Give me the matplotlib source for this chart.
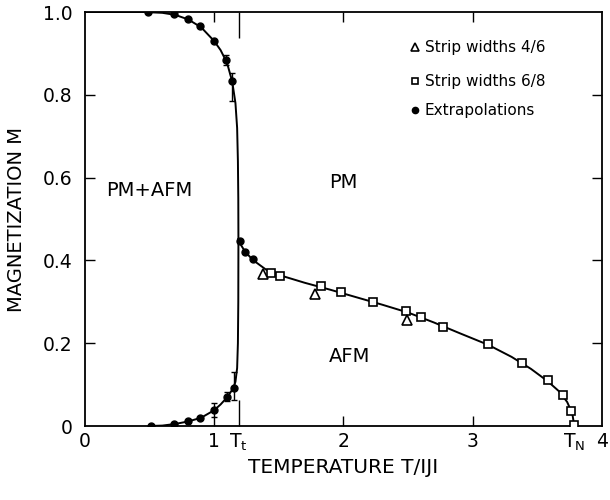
import matplotlib
matplotlib.use("Agg")
import matplotlib.pyplot as plt
import numpy as np

# ---- data ----
# Strip widths 4/6 (open triangles)
tri_x = [1.38, 1.78, 2.49]
tri_y = [0.367, 0.320, 0.256]
# Strip widths 6/8 (open squares)
sq_x = [1.44, 1.51, 1.83, 1.98, 2.23, 2.48, 2.60, 2.77, 3.12, 3.38, 3.58, 3.70, 3.76, 3.78]
sq_y = [0.369, 0.362, 0.337, 0.323, 0.299, 0.277, 0.263, 0.240, 0.199, 0.153, 0.110, 0.075, 0.036, 0.002]
# Extrapolations (filled circles), upper branch / lower branch / right branch
ext_up_x = [0.49, 0.69, 0.80, 0.89, 1.00, 1.09, 1.135]
ext_up_y = [1.000, 0.995, 0.983, 0.966, 0.930, 0.884, 0.833]
ext_up_err_lo = [0, 0, 0, 0, 0, 0.012, 0.047]
ext_up_err_hi = [0, 0, 0, 0, 0, 0.012, 0.020]
ext_lo_x = [0.51, 0.69, 0.80, 0.89, 1.00, 1.10, 1.15]
ext_lo_y = [0.000, 0.005, 0.012, 0.020, 0.039, 0.070, 0.092]
ext_lo_err_lo = [0, 0, 0, 0, 0.017, 0.010, 0.030]
ext_lo_err_hi = [0, 0, 0, 0, 0.017, 0.012, 0.038]
ext_r_x = [1.20, 1.24, 1.30]
ext_r_y = [0.447, 0.420, 0.403]

# smooth guide curves
left_curve_x = [0.0, 0.45, 0.6, 0.7, 0.8, 0.9, 1.0, 1.05, 1.1, 1.14, 1.165, 1.178, 1.184, 1.187,
                1.188, 1.187, 1.184, 1.178, 1.165, 1.15, 1.1, 1.05, 1.0, 0.9, 0.8, 0.7, 0.6, 0.5]
left_curve_y = [1.0, 1.0, 0.998, 0.993, 0.982, 0.963, 0.930, 0.908, 0.877, 0.832, 0.78, 0.72, 0.64, 0.55,
                0.45, 0.30, 0.20, 0.14, 0.107, 0.092, 0.069, 0.052, 0.038, 0.020, 0.011, 0.005, 0.001, 0.0]
right_curve_x = [1.188, 1.21, 1.24, 1.30, 1.40, 1.51, 1.70, 1.90, 2.10, 2.30, 2.50, 2.70, 2.90, 3.12,
                 3.30, 3.45, 3.58, 3.67, 3.73, 3.77, 3.785]
right_curve_y = [0.452, 0.436, 0.421, 0.401, 0.378, 0.364, 0.346, 0.329, 0.311, 0.293, 0.274, 0.250, 0.224,
                 0.196, 0.167, 0.138, 0.108, 0.083, 0.058, 0.030, 0.0]

x_ticks = [0, 1, 1.19, 2, 3, 3.78, 4]
x_ticklabels = ["0", "1", r"T$_{\rm t}$", "2", "3", r"T$_{\rm N}$", "4"]
y_ticks = [0, 0.2, 0.4, 0.6, 0.8, 1.0]
y_ticklabels = ["0", "0.2", "0.4", "0.6", "0.8", "1.0"]

# ---- figure ----
plt.rcParams['font.family'] = ['DejaVu Sans']
fig = plt.figure(figsize=(6.1, 5.0), dpi=100)
ax = fig.add_axes([0.139, 0.148, 0.848, 0.828])

lw = 1.4
ax.plot(left_curve_x, left_curve_y, color='black', lw=lw, zorder=2)
ax.plot(right_curve_x, right_curve_y, color='black', lw=lw, zorder=2)

ax.errorbar(ext_up_x, ext_up_y, yerr=[ext_up_err_lo, ext_up_err_hi], fmt='o', color='black',
            ms=5, capsize=2.5, elinewidth=1, zorder=3)
ax.errorbar(ext_lo_x, ext_lo_y, yerr=[ext_lo_err_lo, ext_lo_err_hi], fmt='o', color='black',
            ms=5, capsize=2.5, elinewidth=1, zorder=3)
ax.plot(ext_r_x, ext_r_y, 'o', color='black', ms=5, zorder=3)
ax.plot(sq_x, sq_y, 's', mfc='white', mec='black', mew=1.2, ms=5.5, zorder=4)
ax.plot(tri_x, tri_y, '^', mfc='white', mec='black', mew=1.2, ms=6.5, zorder=4)

ax.set_xlim(0, 4.0)
ax.set_ylim(0, 1.0)

# ticks: inward, on all sides
ax.set_xticks(x_ticks)
ax.set_xticklabels(x_ticklabels, fontsize=13.5)
ax.set_yticks(y_ticks)
ax.set_yticklabels(y_ticklabels, fontsize=13.5)
ax.tick_params(direction='in', length=7, width=1, top=True, right=True)
ax.tick_params(axis='x', pad=4)
ax.tick_params(axis='y', pad=9)
# longer tick at T_t, hide ticks at 0, 4 and T_N
for i, t in enumerate(ax.xaxis.get_major_ticks()):
    if x_ticks[i] == 1.19:
        t.tick1line.set_markersize(19)
        t.tick2line.set_markersize(19)
    if x_ticks[i] in (0, 4, 3.78):
        t.tick1line.set_visible(False)
        t.tick2line.set_visible(False)
for i, t in enumerate(ax.yaxis.get_major_ticks()):
    if y_ticks[i] in (0, 1.0):
        t.tick1line.set_visible(False)
        t.tick2line.set_visible(False)
for s in ax.spines.values():
    s.set_linewidth(1.3)

ax.set_xlabel("TEMPERATURE T/IJI", fontsize=14.5, labelpad=4)
ax.set_ylabel("MAGNETIZATION M", fontsize=14, labelpad=12)

# region labels
ax.text(0.5, 0.57, "PM+AFM", fontsize=14, ha='center', va='center')
ax.text(2.0, 0.587, "PM", fontsize=14, ha='center', va='center')
ax.text(2.05, 0.167, "AFM", fontsize=14, ha='center', va='center')

# legend (manual, no frame)
lx = 2.55
ltx = 2.63
ax.plot([lx], [0.915], '^', mfc='white', mec='black', mew=1.2, ms=6, clip_on=False)
ax.text(ltx, 0.915, "Strip widths 4/6", fontsize=11, va='center')
ax.plot([lx], [0.833], 's', mfc='white', mec='black', mew=1.2, ms=5, clip_on=False)
ax.text(ltx, 0.833, "Strip widths 6/8", fontsize=11, va='center')
ax.plot([lx], [0.763], 'o', color='black', ms=4.5, clip_on=False)
ax.text(ltx, 0.763, "Extrapolations", fontsize=11, va='center')

fig.savefig("out.png", dpi=100)
